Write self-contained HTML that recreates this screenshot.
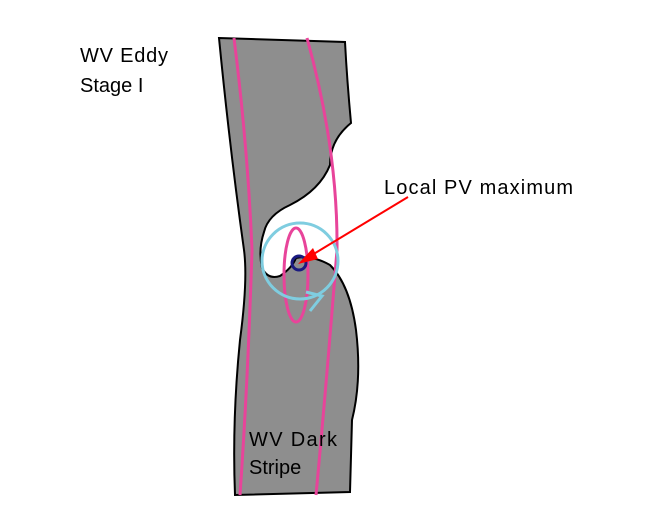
<!DOCTYPE html><html><head><style>body{margin:0;background:#fff}svg{display:block}</style></head><body>
<svg width="650" height="524" viewBox="0 0 650 524" font-family="Liberation Sans, sans-serif">
<path d="M219,38 L345,42 Q347,80 351,123 Q330,140 330,165 Q320,190 290,205 Q268,215 264,232 Q258,250 262,268 Q268,280 280,276 Q292,268 296,258 Q312,255 330,265 Q350,285 356,330 Q362,380 352,420 L350,492 L235,495 Q232,420 240,340 Q248,280 244,250 Q230,150 219,38 Z" fill="#8e8e8e" stroke="#000" stroke-width="2"/>
<path d="M234,38 Q248,150 252,250 Q248,380 240,495" fill="none" stroke="#e8449a" stroke-width="3"/>
<path d="M307,38 Q338,150 337,250 Q325,400 316,495" fill="none" stroke="#e8449a" stroke-width="3"/>
<ellipse cx="296" cy="275" rx="12" ry="47" fill="none" stroke="#e8449a" stroke-width="3"/>
<circle cx="300" cy="261" r="38" fill="none" stroke="#7fcde0" stroke-width="3"/>
<path d="M306,292 L322,296 L310,311" fill="none" stroke="#7fcde0" stroke-width="3"/>
<circle cx="299" cy="263" r="7" fill="none" stroke="#1a1a80" stroke-width="3"/>
<line x1="408" y1="197" x2="312" y2="255" stroke="#f00" stroke-width="2"/>
<polygon points="298,264 313,248 318,259" fill="#f00"/>
<text x="80" y="62" font-size="20" textLength="88">WV Eddy</text>
<text x="80" y="92" font-size="20">Stage I</text>
<text x="384" y="194" font-size="20" textLength="189">Local PV maximum</text>
<text x="249" y="446" font-size="20" textLength="88">WV Dark</text>
<text x="249" y="474" font-size="20">Stripe</text>
</svg></body></html>
